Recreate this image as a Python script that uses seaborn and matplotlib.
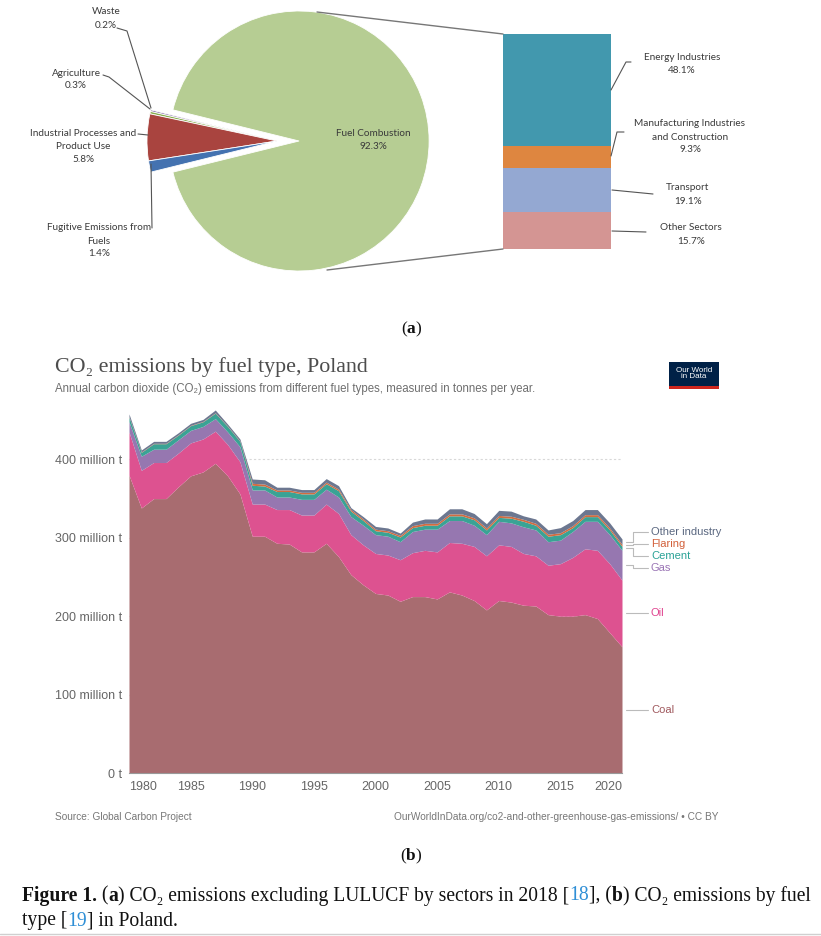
import numpy as np
import matplotlib
matplotlib.use("Agg")
import matplotlib.pyplot as plt
from matplotlib.patches import Rectangle
import seaborn as sns

# ---------------- datos (a): sectores 2018 ----------------
sector_names = ["Waste", "Agriculture", "Industrial Processes and\nProduct Use",
                "Fugitive Emissions from\nFuels", "Fuel Combustion"]
sector_shares = [0.2, 0.3, 5.8, 1.4, 92.3]
sector_colors = ["#7B62A3", "#86AC4F", "#A9443F", "#4472B0", "#B6CD93"]

fuel_names = ["Energy Industries", "Manufacturing Industries\nand Construction",
              "Transport", "Other Sectors"]
fuel_shares = [48.1, 9.3, 19.1, 15.7]
fuel_colors = ["#4298AE", "#DE8640", "#94A8D2", "#D49593"]

# ---------------- datos (b): emisiones por combustible (Mt) ----------------
years = list(range(1980, 2021))
coal = [380, 338, 350, 350, 365, 379, 384, 395, 379, 356,
        302, 302, 293, 292, 282, 282, 293, 276, 253, 240,
        229, 227, 219, 225, 225, 222, 231, 227, 220, 208,
        220, 218, 214, 213, 202, 200, 200, 202, 197, 179, 161]
oil = [55, 48, 46, 46, 43, 42, 42, 41, 40, 41,
       41, 41, 43, 44, 47, 47, 50, 55, 51, 51,
       51, 51, 53, 56, 59, 60, 63, 66, 69, 69,
       71, 71, 66, 64, 63, 67, 75, 84, 87, 88, 85]
gas = [13, 18, 17, 17, 17, 16, 16, 16, 16, 19,
       18, 18, 16, 16, 20, 20, 19, 21, 23, 25,
       24, 24, 23, 27, 27, 29, 28, 29, 27, 27,
       30, 30, 34, 33, 30, 30, 33, 35, 37, 37, 38]
cement = [6, 5, 7, 7, 6, 6, 6, 7, 7, 7,
          6, 5, 7, 7, 7, 7, 7, 8, 7, 6,
          5, 5, 6, 5, 5, 5, 6, 6, 7, 6,
          5, 6, 7, 6, 7, 7, 5, 6, 6, 6, 5]
flaring = [0.5, 0.5, 0.5, 0.5, 0.5, 0.5, 0.5, 0.5, 0.5, 0.5,
           2.5, 2.5, 2, 2, 2, 2, 2, 2, 2, 2,
           2, 2, 2, 2.5, 2.5, 2.5, 2.5, 2.5, 2.5, 2.5,
           2.5, 2.5, 2.5, 2.5, 2.5, 2.5, 2.5, 2.5, 2.5, 2.5, 2.5]
other_industry = [3.5, 2.5, 2.5, 2.5, 2.5, 2.5, 2.5, 3.5, 2.5, 2.5,
                  5.5, 5.5, 3.5, 3.5, 3.5, 3.5, 4.5, 4.5, 2.5, 3,
                  3.5, 3.5, 3, 4.5, 5.5, 5.5, 6.5, 6.5, 5.5, 5.5,
                  6.5, 6.5, 4.5, 5.5, 5.5, 6.5, 6.5, 6.5, 6.5, 6.5, 7]
series_names = ["Coal", "Oil", "Gas", "Cement", "Flaring", "Other industry"]
series_colors = ["#A86C70", "#DD5290", "#9677B0", "#3AA395", "#D26C3F", "#6C7790"]
label_colors = ["#A0595E", "#E0438F", "#9A74B5", "#2AA296", "#D2603A", "#5A6780"]
y_ticks = [0, 100, 200, 300, 400]
y_ticklabels = ["0 t", "100 million t", "200 million t", "300 million t", "400 million t"]
x_ticks = [1980, 1985, 1990, 1995, 2000, 2005, 2010, 2015, 2020]

sns.set_style("white")
SANS = ["Liberation Sans", "DejaVu Sans"]
SERIF = ["Liberation Serif", "DejaVu Serif"]
LABEL = ["Lato", "DejaVu Sans"]
plt.rcParams["font.family"] = SANS

W, H = 821, 936
fig = plt.figure(figsize=(W / 100, H / 100), dpi=100)
fig.patch.set_facecolor("white")


def box(x0, y0, x1, y1):
    # caja en pixeles (origen arriba-izquierda) -> coordenadas de figura
    return [x0 / W, 1 - y1 / H, (x1 - x0) / W, (y1 - y0) / H]


# ---------------- (a) pastel ----------------
axp = fig.add_axes(box(147, 11, 407, 271))
small = sum(sector_shares[:-1]) * 3.6
wedges, _ = axp.pie(sector_shares, colors=sector_colors, startangle=180 - small / 2,
                    counterclock=True, radius=1, explode=[0, 0, 0, 0, 0.17],
                    wedgeprops=dict(edgecolor="white", linewidth=0.6))
for w in wedges:
    w.set_clip_on(False)
axp.set_xlim(-1, 1)
axp.set_ylim(-1, 1)
axp.set_aspect("equal")
axp.axis("off")

# barra apilada
axb = fig.add_axes(box(503, 34, 611, 249))
bottom = 0
for v, c in zip(fuel_shares, fuel_colors):
    axb.bar(0, v, bottom=bottom, width=1, color=c, linewidth=0)
    bottom += v
axb.set_xlim(-0.5, 0.5)
axb.set_ylim(bottom, 0)
axb.axis("off")

# ---------------- (b) areas apiladas ----------------
ax = fig.add_axes(box(129, 404.5, 622, 773))
ax.stackplot(years, coal, oil, gas, cement, flaring, other_industry,
             colors=series_colors, linewidth=0)
ax.set_xlim(1980, 2020)
ax.set_ylim(0, 470)
for s in ["top", "right", "left"]:
    ax.spines[s].set_visible(False)
ax.spines["bottom"].set_color("#999999")
ax.spines["bottom"].set_linewidth(0.8)
ax.set_yticks(y_ticks)
ax.set_yticklabels(y_ticklabels)
ax.set_xticks(x_ticks)
ax.set_xticklabels([str(x) for x in x_ticks])
ax.tick_params(axis="y", length=0, pad=5, labelsize=9, labelcolor="#666666")
ax.tick_params(axis="x", length=4, width=0.8, color="#999999", pad=2,
               labelsize=9, labelcolor="#666666", direction="out")
xl = ax.get_xticklabels()
xl[0].set_ha("left")
xl[-1].set_ha("right")
for yv in y_ticks[1:]:
    ax.axhline(yv, color="#d8d8d8", lw=0.8, ls=(0, (2, 2)), zorder=0.5)
ax.set_axisbelow(False)

# etiquetas a la derecha
layers = [coal, oil, gas, cement, flaring, other_industry]
tops = np.cumsum([l[-1] for l in layers])
mids = tops - np.array([l[-1] for l in layers]) / 2
lab_y = list(mids)
cluster = np.mean(mids[2:])
for k, i in enumerate(range(2, 6)):
    lab_y[i] = cluster + (k - 1.5) * 15.5
for i in range(6):
    ax.plot([2020.3, 2020.9, 2020.9, 2022.1], [mids[i], mids[i], lab_y[i], lab_y[i]],
            color="#bbbbbb", lw=0.8, clip_on=False)
    ax.text(2022.35, lab_y[i], series_names[i], color=label_colors[i], fontsize=8,
            va="center", ha="left", clip_on=False)

# ---------------- capa de textos en pixeles ----------------
ov = fig.add_axes([0, 0, 1, 1])
ov.set_xlim(0, W)
ov.set_ylim(H, 0)
ov.axis("off")
ov.patch.set_alpha(0)


def block(lines, cx, y0, step=13.5, **kw):
    for k, s in enumerate(lines):
        ov.text(cx, y0 + k * step, s, ha="center", va="center", fontsize=7.2,
                color="#3a3a3a", family=LABEL, **kw)


def pie_label(name, share):
    return name.split("\n") + [f"{share}%"]


block(pie_label(sector_names[0], sector_shares[0]), 106, 12)
block(pie_label(sector_names[1], sector_shares[1]), 76, 73, step=12.5)
block(pie_label(sector_names[2], sector_shares[2]), 83, 133)
block(pie_label(sector_names[3], sector_shares[3]), 99, 228, step=13)
block(pie_label(sector_names[4], sector_shares[4]), 373, 134, step=12.5)
block(pie_label(fuel_names[0], fuel_shares[0]), 682, 57)
block(pie_label(fuel_names[1], fuel_shares[1]), 690, 124, step=13)
block(pie_label(fuel_names[2], fuel_shares[2]), 688, 188)
block(pie_label(fuel_names[3], fuel_shares[3]), 691, 228)

leaders = [
    [(117, 28), (127, 31), (151, 108)],
    [(103, 75), (109, 77), (150, 109)],
    [(138, 134), (148, 135)],
    [(152, 228), (151, 164)],
    [(611, 90), (626, 62), (631, 62)],
    [(611, 156), (617, 132), (624, 132)],
    [(612, 190), (653, 194)],
    [(612, 231), (646, 232)],
]
for pts in leaders:
    xs, ys = zip(*pts)
    ov.plot(xs, ys, color="#555555", lw=0.8)
ov.plot([317, 503], [12, 34], color="#777777", lw=1)
ov.plot([327, 503], [270, 249], color="#777777", lw=1)

# titulo y textos de OWID
ov.text(55, 367, "CO₂ emissions by fuel type, Poland", fontsize=15.8, color="#4d4d4d",
        family=SERIF, va="center")
ov.text(55, 389, "Annual carbon dioxide (CO₂) emissions from different fuel types, "
        "measured in tonnes per year.", fontsize=8.3, color="#6e6e6e", va="center")
ov.add_patch(Rectangle((669, 362), 50, 24, color="#002147", lw=0))
ov.add_patch(Rectangle((669, 386), 50, 3, color="#CE261E", lw=0))
ov.text(694, 373.5, "Our World\nin Data", color="white", fontsize=5.8, ha="center",
        va="center", linespacing=0.95)
ov.text(55, 817, "Source: Global Carbon Project", fontsize=7.3, color="#777777",
        va="center")
ov.text(718, 817, "OurWorldInData.org/co2-and-other-greenhouse-gas-emissions/ • CC BY",
        fontsize=7.3, color="#777777", va="center", ha="right")

# texto con formato mezclado
renderer = fig.canvas.get_renderer()


def width(s, size, kw):
    t1 = ov.text(0, 0, "|" + s + "|", fontsize=size, family=SERIF, **kw)
    t2 = ov.text(0, 0, "||", fontsize=size, family=SERIF, **kw)
    w = t1.get_window_extent(renderer).width - t2.get_window_extent(renderer).width
    t1.remove()
    t2.remove()
    return w


def rich(x, y, parts, size, center=False):
    ws = [width(s, size, kw) for s, kw in parts]
    if center:
        x = x - sum(ws) / 2
    for (s, kw), w in zip(parts, ws):
        kw = dict(kw)
        ov.text(x, y, s, fontsize=size, family=SERIF, va="center",
                color=kw.pop("color", "#111111"), **kw)
        x += w


B = {"weight": "bold"}
BL = {"color": "#2F8FD6"}
rich(411, 329, [("(", {}), ("a", B), (")", {})], 12.5, center=True)
rich(411, 856, [("(", {}), ("b", B), (")", {})], 12.5, center=True)
rich(22, 896, [("Figure 1.", B), (" (", {}), ("a", B),
               (") CO₂ emissions excluding LULUCF by sectors in 2018 [", {}),
               ("18", BL), ("], (", {}), ("b", B),
               (") CO₂ emissions by fuel", {})], 14.1)
rich(22, 921, [("type [", {}), ("19", BL), ("] in Poland.", {})], 14.1)
ov.plot([0, W], [934, 934], color="#d0d0d0", lw=1)

fig.savefig("out.png", dpi=100)
